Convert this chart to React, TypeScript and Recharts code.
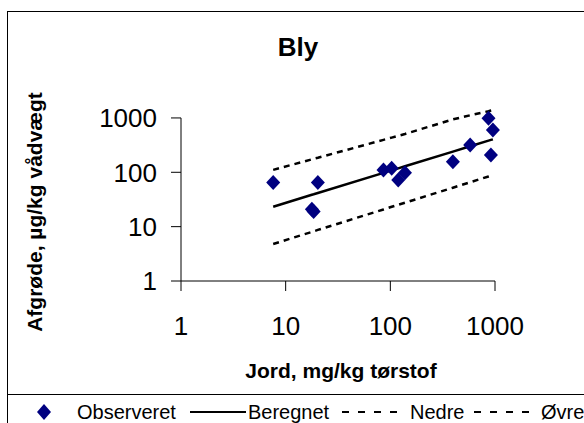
import React from 'react';
import { ComposedChart, Scatter, Line, XAxis, YAxis, ReferenceLine, Legend, Customized } from 'recharts';

// Observed points (soil mg/kg dry matter vs crop µg/kg wet weight)
const observedX = [7.6, 17.8, 18.5, 20.3, 86, 103, 119, 138, 396, 579, 867, 914, 955];
const observedY = [65, 21, 19, 65, 110, 119, 72, 98, 157, 319, 988, 208, 601];

// Computed lines at the same soil values
const lineX = [7.6, 17.8, 18.5, 20.3, 86, 103, 119, 138, 396, 579, 867, 914, 955];
const beregnetY = [23.3, 38.6, 39.4, 41.6, 97.5, 108.6, 118, 129, 240, 301, 382, 394, 404];
const nedreY = [4.8, 8.0, 8.2, 8.7, 20.7, 23.2, 25.3, 27.6, 52, 65.7, 83.8, 86.5, 88.9];
const ovreY = [111, 173, 177, 185, 395, 435, 469, 507, 940, 1120, 1330, 1368, 1400];

const xTicks = [1, 10, 100, 1000];
const yTicks = [1, 10, 100, 1000];
const seriesNames = ['Observeret', 'Beregnet', 'Nedre', 'Øvre'];

const title = 'Bly';
const xTitle = 'Jord, mg/kg tørstof';
const yTitle = 'Afgrøde, µg/kg vådvægt';

const observed = observedX.map((x, i) => ({ x, y: observedY[i] }));
const beregnet = lineX.map((x, i) => ({ x, y: beregnetY[i] }));
const nedre = lineX.map((x, i) => ({ x, y: nedreY[i] }));
const ovre = lineX.map((x, i) => ({ x, y: ovreY[i] }));

const FONT = '"Liberation Sans", Arial, sans-serif';
const NAVY = '#000080';

const Diamond = (props: any) => {
  const { cx, cy } = props;
  if (cx == null || cy == null) return null;
  return (
    <polygon
      points={`${cx},${cy - 7.5} ${cx + 7},${cy} ${cx},${cy + 7.5} ${cx - 7},${cy}`}
      fill={NAVY}
      stroke="none"
    />
  );
};

const Titles = () => (
  <g fontFamily={FONT} fill="#000">
    <text x={298} y={56} textAnchor="middle" fontSize={26} fontWeight="bold">{title}</text>
    <text x={341} y={378} textAnchor="middle" fontSize={21} fontWeight="bold">{xTitle}</text>
    <text x={42} y={212} textAnchor="middle" fontSize={21} fontWeight="bold" transform="rotate(-90, 42, 212)">{yTitle}</text>
  </g>
);

const renderLegend = () => {
  const itemStyle: React.CSSProperties = { position: 'absolute', top: 0, height: 34, display: 'flex', alignItems: 'center' };
  return (
    <div style={{ position: 'relative', width: 577, height: 34, fontFamily: FONT, fontSize: 20, color: '#000' }}>
      <div style={{ ...itemStyle, left: 30 }}>
        <svg width={14} height={16}><polygon points="7,0 14,8 7,16 0,8" fill={NAVY} /></svg>
      </div>
      <div style={{ ...itemStyle, left: 70 }}>{seriesNames[0]}</div>
      <div style={{ ...itemStyle, left: 183 }}>
        <svg width={56} height={6}><line x1={0} y1={3} x2={56} y2={3} stroke="#000" strokeWidth={2} /></svg>
      </div>
      <div style={{ ...itemStyle, left: 241 }}>{seriesNames[1]}</div>
      <div style={{ ...itemStyle, left: 335 }}>
        <svg width={60} height={6}><line x1={0} y1={3} x2={60} y2={3} stroke="#000" strokeWidth={2} strokeDasharray="7 9" /></svg>
      </div>
      <div style={{ ...itemStyle, left: 403 }}>{seriesNames[2]}</div>
      <div style={{ ...itemStyle, left: 467 }}>
        <svg width={60} height={6}><line x1={0} y1={3} x2={60} y2={3} stroke="#000" strokeWidth={2} strokeDasharray="7 9" /></svg>
      </div>
      <div style={{ ...itemStyle, left: 534 }}>{seriesNames[3]}</div>
    </div>
  );
};

export default function App() {
  return (
    <div style={{ position: 'absolute', left: 0, top: 0, width: 584, height: 423, overflow: 'hidden', background: '#fff' }}>
      <div style={{ position: 'absolute', left: 7, top: 11, width: 640, height: 500, border: '1px solid #000', boxSizing: 'border-box' }} />
      <div style={{ position: 'absolute', left: 0, top: 0 }}>
        <ComposedChart width={584} height={423} margin={{ top: 110, right: 89, bottom: 0, left: 0 }}>
          <XAxis
            type="number"
            dataKey="x"
            scale="log"
            domain={[1, 1000]}
            ticks={xTicks}
            interval={0}
            height={142}
            tickSize={10}
            tickMargin={26}
            axisLine={{ stroke: '#000', strokeWidth: 1 }}
            tickLine={{ stroke: '#000', strokeWidth: 1 }}
            tick={{ fill: '#000', fontSize: 26, fontFamily: FONT }}
          />
          <YAxis
            type="number"
            dataKey="y"
            scale="log"
            domain={[1, 1400]}
            ticks={yTicks}
            interval={0}
            width={181}
            tickSize={10}
            tickMargin={14}
            axisLine={false}
            tickLine={{ stroke: '#000', strokeWidth: 1 }}
            tick={{ fill: '#000', fontSize: 26, fontFamily: FONT }}
          />
          <ReferenceLine segment={[{ x: 1, y: 1 }, { x: 1, y: 1000 }]} stroke="#000" strokeWidth={1} />
          <Line data={ovre} dataKey="y" name={seriesNames[3]} stroke="#000" strokeWidth={2.5} strokeDasharray="6 5" dot={false} activeDot={false} isAnimationActive={false} type="linear" />
          <Line data={nedre} dataKey="y" name={seriesNames[2]} stroke="#000" strokeWidth={2.5} strokeDasharray="6 5" dot={false} activeDot={false} isAnimationActive={false} type="linear" />
          <Line data={beregnet} dataKey="y" name={seriesNames[1]} stroke="#000" strokeWidth={2.5} dot={false} activeDot={false} isAnimationActive={false} type="linear" />
          <Scatter data={observed} dataKey="y" name={seriesNames[0]} fill={NAVY} shape={Diamond} isAnimationActive={false} />
          <Customized component={Titles} />
          <Legend
            layout="horizontal"
            verticalAlign="middle"
            align="center"
            content={renderLegend}
            wrapperStyle={{ position: 'absolute', left: 7, top: 394, width: 577, height: 34, borderTop: '1px solid #000', margin: 0, padding: 0 }}
          />
        </ComposedChart>
      </div>
    </div>
  );
}
